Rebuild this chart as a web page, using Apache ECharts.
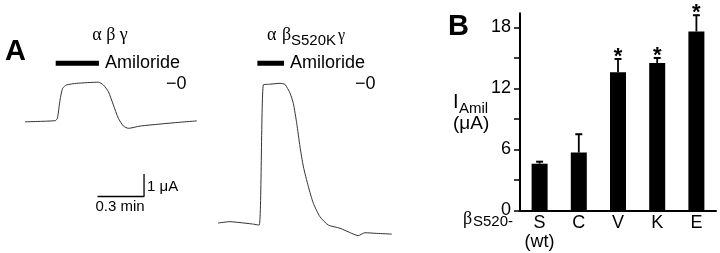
<!DOCTYPE html>
<html>
<head>
<meta charset="utf-8">
<script src="https://cdn.jsdelivr.net/npm/echarts@6/dist/echarts.min.js"></script>
<style>
  html, body { margin: 0; padding: 0; background: #fff; }
  #chart { width: 720px; height: 253px; }
</style>
</head>
<body>
<div id="chart"></div>
<script>
// panel A: recorded traces, time in min, current in uA (0 = amiloride level)
var traceWt = [
  [0.000, -1.68], [0.194, -1.63], [0.209, -1.53], [0.226, -0.71], [0.243, -0.19],
  [0.269, -0.04], [0.334, 0.03], [0.473, 0.08], [0.505, -0.04], [0.538, -0.34],
  [0.570, -0.93], [0.602, -1.52], [0.635, -1.87], [0.667, -1.97], [0.742, -1.87],
  [0.871, -1.78], [1.000, -1.70], [1.108, -1.64]
]
var traceK = [
  [0.000, -6.18], [0.077, -6.12], [0.142, -6.16], [0.219, -6.22], [0.266, -6.27],
  [0.292, -0.04], [0.335, -0.01], [0.400, 0.03], [0.432, -0.02], [0.465, -0.41],
  [0.486, -0.86], [0.508, -1.75], [0.529, -2.79], [0.551, -3.68], [0.583, -4.56],
  [0.615, -5.30], [0.658, -5.90], [0.712, -6.27], [0.787, -6.41], [0.863, -6.64],
  [0.905, -6.74], [0.948, -6.61], [1.024, -6.64], [1.121, -6.67]
]
var amilWt = [0.198, 0.477]
var amilK = [0.254, 0.426]
var amilLevel = 0.92
var scaleBar = [[0.468, -5], [0.768, -5], [0.768, -4]]

// panel B: amiloride-sensitive current
var categories = ['S\n(wt)', 'C', 'V', 'K', 'E']
var means = [4.6, 5.7, 13.6, 14.5, 17.6]
var errors = [0.2, 1.8, 1.3, 0.5, 1.6]
var significant = [0, 0, 1, 1, 1]
var yTicks = [0, 3, 6, 9, 12, 15, 18]
var yLabels = [0, 6, 12, 18]

var sans = 'Liberation Sans, Arial, sans-serif'
var serif = 'Liberation Serif, Times New Roman, serif'

var errData = means.map(function (m, i) {
  return [i, m, m + errors[i], significant[i]]
})

function renderErr (params, api) {
  var base = api.coord([api.value(0), api.value(1)])
  var top = api.coord([api.value(0), api.value(2)])
  var kids = [
    {type: 'line', shape: {x1: base[0], y1: base[1], x2: top[0], y2: top[1]}, style: {stroke: '#000', lineWidth: 1.8}},
    {type: 'line', shape: {x1: top[0] - 3.5, y1: top[1], x2: top[0] + 3.5, y2: top[1]}, style: {stroke: '#000', lineWidth: 2}}
  ]
  if (api.value(3)) {
    kids.push({type: 'text', style: {text: '*', x: top[0], y: top[1] - 2, align: 'center', verticalAlign: 'middle', fill: '#000', font: 'bold 22px ' + sans}})
  }
  return {type: 'group', children: kids}
}

function txt (text, x, y, size, opts) {
  opts = opts || {}
  return {
    type: 'text',
    x: x,
    y: y,
    silent: true,
    style: {
      text: text,
      fill: '#000',
      font: (opts.bold ? 'bold ' : '') + size + 'px ' + (opts.family || sans),
      align: opts.align || 'left',
      verticalAlign: 'middle'
    }
  }
}

var pxPerMin = 155
var tMax = 1.15

var chart = echarts.init(document.getElementById('chart'))
chart.setOption({
  animation: false,
  backgroundColor: '#fff',
  grid: [
    {left: 25, top: 57, width: tMax * pxPerMin, height: 184.5},
    {left: 218, top: 57, width: tMax * pxPerMin, height: 184.5},
    {left: 520, top: 13.2, width: 196, height: 197.3}
  ],
  xAxis: [
    {gridIndex: 0, type: 'value', min: 0, max: tMax, show: false},
    {gridIndex: 1, type: 'value', min: 0, max: tMax, show: false},
    {
      gridIndex: 2,
      type: 'category',
      data: categories,
      axisTick: {show: false},
      axisLine: {lineStyle: {color: '#000', width: 2}},
      axisLabel: {color: '#000', fontSize: 18, fontFamily: sans, margin: 3, lineHeight: 19}
    }
  ],
  yAxis: [
    {gridIndex: 0, type: 'value', min: -7, max: 1.2, show: false},
    {gridIndex: 1, type: 'value', min: -7, max: 1.2, show: false},
    {
      gridIndex: 2,
      type: 'value',
      min: 0,
      max: 19.4,
      splitLine: {show: false},
      axisLine: {show: true, lineStyle: {color: '#000', width: 2}},
      axisTick: {show: true, length: 6, customValues: yTicks, lineStyle: {color: '#000', width: 1.5}},
      axisLabel: {color: '#000', fontSize: 18, fontFamily: sans, margin: 9, customValues: yLabels}
    }
  ],
  series: [
    {type: 'line', xAxisIndex: 0, yAxisIndex: 0, data: traceWt, showSymbol: false, smooth: 0.2, lineStyle: {color: '#333', width: 1}},
    {type: 'line', xAxisIndex: 0, yAxisIndex: 0, data: amilWt.map(function (t) { return [t, amilLevel] }), showSymbol: false, lineStyle: {color: '#000', width: 5, cap: 'butt'}},
    {type: 'line', xAxisIndex: 0, yAxisIndex: 0, data: scaleBar, showSymbol: false, lineStyle: {color: '#000', width: 1.3}},
    {type: 'line', xAxisIndex: 1, yAxisIndex: 1, data: traceK, showSymbol: false, smooth: 0.2, lineStyle: {color: '#333', width: 1}},
    {type: 'line', xAxisIndex: 1, yAxisIndex: 1, data: amilK.map(function (t) { return [t, amilLevel] }), showSymbol: false, lineStyle: {color: '#000', width: 5, cap: 'butt'}},
    {type: 'bar', xAxisIndex: 2, yAxisIndex: 2, data: means, barWidth: 16, itemStyle: {color: '#000'}},
    {type: 'custom', xAxisIndex: 2, yAxisIndex: 2, data: errData, renderItem: renderErr, z: 5}
  ],
  graphic: [
    txt('A', 5, 52, 29, {bold: true}),
    txt('B', 448, 27, 29, {bold: true}),
    txt('α β γ', 110, 35, 18, {family: serif, align: 'center'}),
    txt('Amiloride', 105, 63, 18),
    txt('−0', 166, 84, 18),
    txt('α', 267, 35, 18, {family: serif}),
    txt('β', 282, 35, 18, {family: serif}),
    txt('S520K', 291, 41, 15),
    txt('γ', 338, 36, 16, {family: serif}),
    txt('Amiloride', 290, 63, 18),
    txt('−0', 355, 84, 18),
    txt('1 μA', 147, 187, 15),
    txt('0.3 min', 120, 207, 15, {align: 'center'}),
    txt('I', 453, 102, 20),
    txt('Amil', 459, 109, 15),
    txt('(μA)', 453, 124, 19),
    txt('β', 463, 219, 18, {family: serif}),
    txt('S520-', 473, 222, 15)
  ]
})
</script>
</body>
</html>
